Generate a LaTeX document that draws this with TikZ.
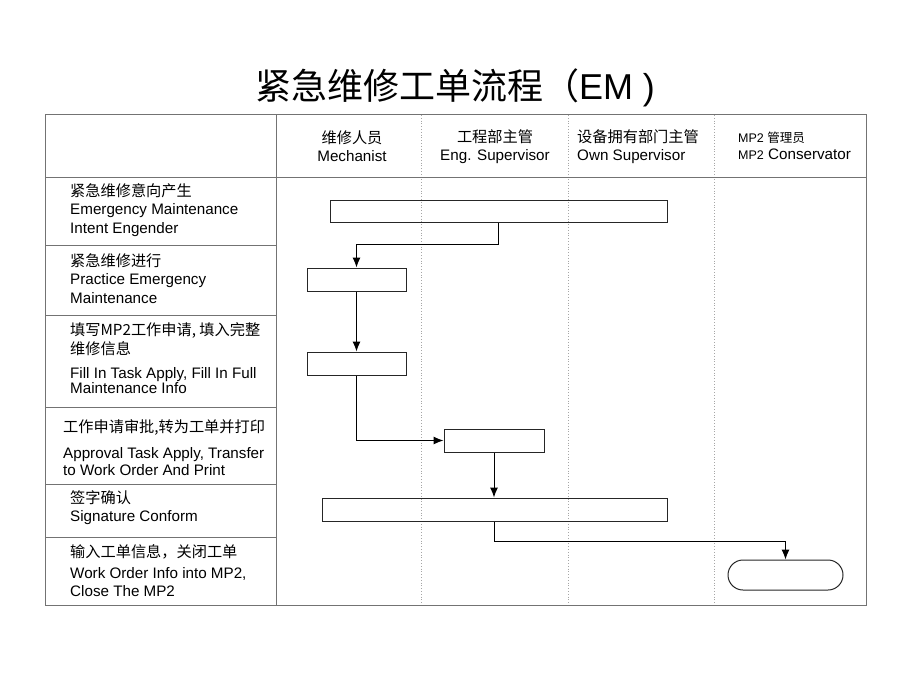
\documentclass[tikz,border=0pt]{standalone}
\usepackage{fontspec}
\setmainfont{Liberation Sans}
\newfontfamily\cjk{Noto Sans CJK SC}
\usetikzlibrary{arrows.meta,shapes.misc}

\tikzset{
  grid/.style={draw=black!55, line width=1pt},
  lane/.style={draw=black!35, dotted, line width=0.8pt},
  task/.style={draw=black!85, line width=1pt, inner sep=0pt},
  term/.style={task, rounded rectangle},
  link/.style={line width=1pt, -{Latex[length=10pt,width=8pt]}},
  rowtext/.style={anchor=west, align=left, inner sep=0pt, font=\fontsize{15.2}{18.5}\selectfont},
  head/.style={align=center, inner sep=0pt, font=\fontsize{15.2}{18}\selectfont}
}

\begin{document}
\begin{tikzpicture}[x=1pt, y=-1pt]
    \useasboundingbox (0,0) rectangle (920,690);

    % titel
    \node[inner sep=0pt, font=\fontsize{36}{40}\selectfont] (title) at (455,88)
      {{\cjk 紧急维修工单流程（}EM )};

    % tabel en banen
    \foreach \x in {421,568,714}
      \draw[lane] (\x,115) -- (\x,605);
    \draw[grid] (45,115) rectangle (866,605);
    \draw[grid] (45,177) -- (866,177);
    \draw[grid] (276,115) -- (276,605);
    \foreach \y in {245,315,407,484,537}
      \draw[grid] (45,\y) -- (276,\y);

    % koppen
    \node[head] (h1) at (352,146.5) {{\cjk 维修人员}\\Mechanist};
    \node[head] (h2) at (495,146.5) {{\cjk 工程部主管}\\Eng. Supervisor};
    \node[head, align=left, anchor=west] (h3) at (577,146.5) {{\cjk 设备拥有部门主管}\\Own Supervisor};
    \node[head, align=left, anchor=west] (h4) at (738,145.5)
      {{\fontsize{12.5}{14}\selectfont MP2 \cjk 管理员}\\[-1pt]{\fontsize{12.5}{14}\selectfont MP2} Conservator};

    % stappen
    \node[rowtext] (r1) at (70,210) {{\cjk 紧急维修意向产生}\\Emergency Maintenance\\Intent Engender};
    \node[rowtext] (r2) at (70,278.5) {{\cjk 紧急维修进行}\\Practice Emergency\\Maintenance};
    \node[rowtext] (r3) at (70,358) {{\cjk 填写MP2工作申请, 填入完整}\\{\cjk 维修信息}\\[5.5pt]Fill In Task Apply, Fill In Full\\[-3.5pt]Maintenance Info};
    \node[rowtext] (r4) at (63,447.5) {{\cjk 工作申请审批,转为工单并打印}\\[7.5pt]Approval Task Apply, Transfer\\[-1.5pt]to Work Order And Print};
    \node[rowtext] (r5) at (70,507.5) {{\cjk 签字确认}\\Signature Conform};
    \node[rowtext] (r6) at (70,570.5) {{\cjk 输入工单信息，关闭工单}\\[2.5pt]Work Order Info into MP2,\\Close The MP2};

    % vakken
    \node[task, minimum width=337pt, minimum height=22pt] (b1) at (498.5,211) {};
    \node[task, minimum width=99pt, minimum height=23pt] (b2) at (356.5,279.5) {};
    \node[task, minimum width=99pt, minimum height=23pt] (b3) at (356.5,363.5) {};
    \node[task, minimum width=100pt, minimum height=23pt] (b4) at (494,440.5) {};
    \node[task, minimum width=345pt, minimum height=23pt] (b5) at (494.5,509.5) {};
    \node[term, minimum width=115pt, minimum height=30pt] (b6) at (785.5,575) {};

    % pijlen
    \draw[link] (b1.south) -- ++(0,22) -| (b2.north);
    \draw[link] (b2.south) -- (b3.north);
    \draw[link] (b3.south) |- (b4.west);
    \draw[link] (b4.south) -- (b4.south |- b5.north);
    \draw[link] (b5.south) -- ++(0,20) -| (b6.north);

\end{tikzpicture}
\end{document}
